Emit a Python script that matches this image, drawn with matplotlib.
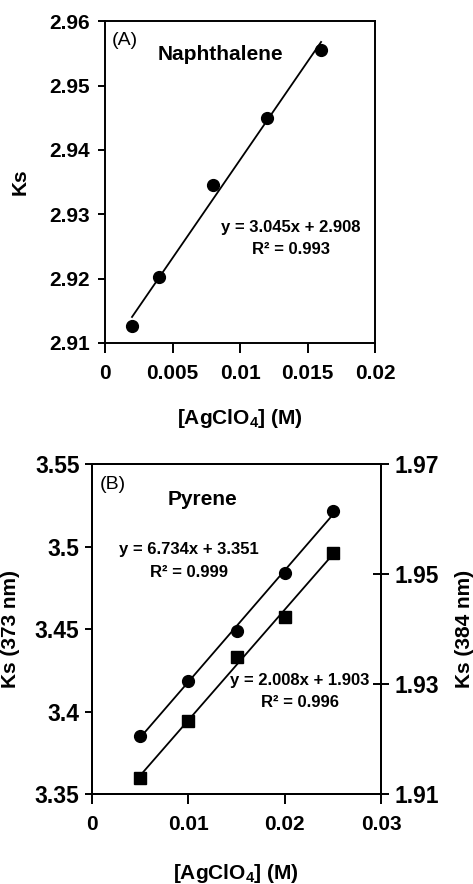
import matplotlib
matplotlib.use("Agg")
from matplotlib import pyplot as plt
import numpy as np

plt.rcParams['font.family'] = ['Liberation Sans', 'DejaVu Sans']
plt.rcParams['font.weight'] = 'bold'
plt.rcParams['mathtext.fontset'] = 'custom'
plt.rcParams['mathtext.rm'] = 'Liberation Sans:bold'
plt.rcParams['mathtext.bf'] = 'Liberation Sans:bold'
plt.rcParams['mathtext.it'] = 'Liberation Sans:bold'

# (A) naphthalene
x_a = [0.002, 0.004, 0.008, 0.012, 0.016]
ks_a = [2.9126, 2.9202, 2.9346, 2.9450, 2.9555]
xt_a = [0, 0.005, 0.01, 0.015, 0.02]
xt_a_labels = ["0", "0.005", "0.01", "0.015", "0.02"]
yt_a = [2.91, 2.92, 2.93, 2.94, 2.95, 2.96]
yt_a_labels = ["2.91", "2.92", "2.93", "2.94", "2.95", "2.96"]

# (B) pyrene
x_b = [0.005, 0.01, 0.015, 0.02, 0.025]
ks_373 = [3.3853, 3.4187, 3.4490, 3.4841, 3.5215]
ks_384 = [1.9130, 1.9233, 1.9350, 1.9422, 1.9538]
xt_b = [0, 0.01, 0.02, 0.03]
xt_b_labels = ["0", "0.01", "0.02", "0.03"]
yt_b = [3.35, 3.4, 3.45, 3.5, 3.55]
yt_b_labels = ["3.35", "3.4", "3.45", "3.5", "3.55"]
yt_b2 = [1.91, 1.93, 1.95, 1.97]
yt_b2_labels = ["1.91", "1.93", "1.95", "1.97"]

fig = plt.figure(figsize=(4.73, 8.84), dpi=100)


def style(ax):
    for s in ax.spines.values():
        s.set_linewidth(1.4)
    ax.tick_params(direction='out', width=1.4, labelsize=15)
    ax.tick_params(axis='x', length=7, pad=8)
    ax.tick_params(axis='y', length=5, pad=6)


def fitline(ax, x, y):
    k, b = np.polyfit(x, y, 1)
    xx = np.array([x[0], x[-1]])
    ax.plot(xx, k * xx + b, color='black', lw=1.3, zorder=2)


# ---- panel A ----
ax1 = fig.add_axes([0.222, 0.612, 0.571, 0.364])
style(ax1)
fitline(ax1, x_a, ks_a)
ax1.plot(x_a, ks_a, 'o', color='black', ms=8.5, zorder=3)
ax1.set_xlim(0, 0.02)
ax1.set_ylim(2.91, 2.96)
ax1.set_xticks(xt_a, xt_a_labels)
ax1.set_yticks(yt_a, yt_a_labels)
ax1.set_ylabel("Ks", fontsize=15, fontweight='bold')
ax1.yaxis.set_label_coords(-0.278, 0.5)
ax1.set_xlabel("[AgClO$_4$] (M)", fontsize=15, fontweight='bold')
ax1.xaxis.set_label_coords(0.5, -0.199)
ax1.text(0.026, 0.941, "(A)", transform=ax1.transAxes, fontsize=14,
         fontweight='normal', va='center', ha='left')
ax1.text(0.426, 0.898, "Naphthalene", transform=ax1.transAxes, fontsize=15,
         va='center', ha='center')
ax1.text(0.689, 0.360, "y = 3.045x + 2.908", transform=ax1.transAxes,
         fontsize=12, va='center', ha='center')
ax1.text(0.689, 0.289, "R² = 0.993", transform=ax1.transAxes,
         fontsize=12, va='center', ha='center')

# ---- panel B ----
ax2 = fig.add_axes([0.1945, 0.1018, 0.611, 0.3733])
style(ax2)
fitline(ax2, x_b, ks_373)
ax2.plot(x_b, ks_373, 'o', color='black', ms=8.5, zorder=3)
ax2.set_xlim(0, 0.03)
ax2.set_ylim(3.35, 3.55)
ax2.set_xticks(xt_b, xt_b_labels)
ax2.set_yticks(yt_b, yt_b_labels)
ax2.tick_params(axis='y', labelsize=16.5, pad=4)
ax2.set_ylabel("Ks (373 nm)", fontsize=15, fontweight='bold')
ax2.yaxis.set_label_coords(-0.249, 0.5)
ax2.set_xlabel("[AgClO$_4$] (M)", fontsize=15, fontweight='bold')
ax2.xaxis.set_label_coords(0.498, -0.206)

ax3 = ax2.twinx()
style(ax3)
fitline(ax3, x_b, ks_384)
ax3.plot(x_b, ks_384, 's', color='black', ms=8, zorder=3)
ax3.set_ylim(1.91, 1.97)
ax3.set_yticks(yt_b2, yt_b2_labels)
ax3.tick_params(axis='y', direction='inout', length=12, labelsize=16.5, pad=4)
ax3.set_ylabel("Ks (384 nm)", fontsize=15, fontweight='bold')
ax3.yaxis.set_label_coords(1.256, 0.5)

ax2.text(0.028, 0.939, "(B)", transform=ax2.transAxes, fontsize=14,
         fontweight='normal', va='center', ha='left')
ax2.text(0.381, 0.891, "Pyrene", transform=ax2.transAxes, fontsize=15,
         va='center', ha='center')
ax2.text(0.336, 0.742, "y = 6.734x + 3.351", transform=ax2.transAxes,
         fontsize=12, va='center', ha='center')
ax2.text(0.336, 0.670, "R² = 0.999", transform=ax2.transAxes,
         fontsize=12, va='center', ha='center')
ax2.text(0.720, 0.345, "y = 2.008x + 1.903", transform=ax2.transAxes,
         fontsize=12, va='center', ha='center')
ax2.text(0.720, 0.276, "R² = 0.996", transform=ax2.transAxes,
         fontsize=12, va='center', ha='center')

plt.savefig("out.png", dpi=100)
